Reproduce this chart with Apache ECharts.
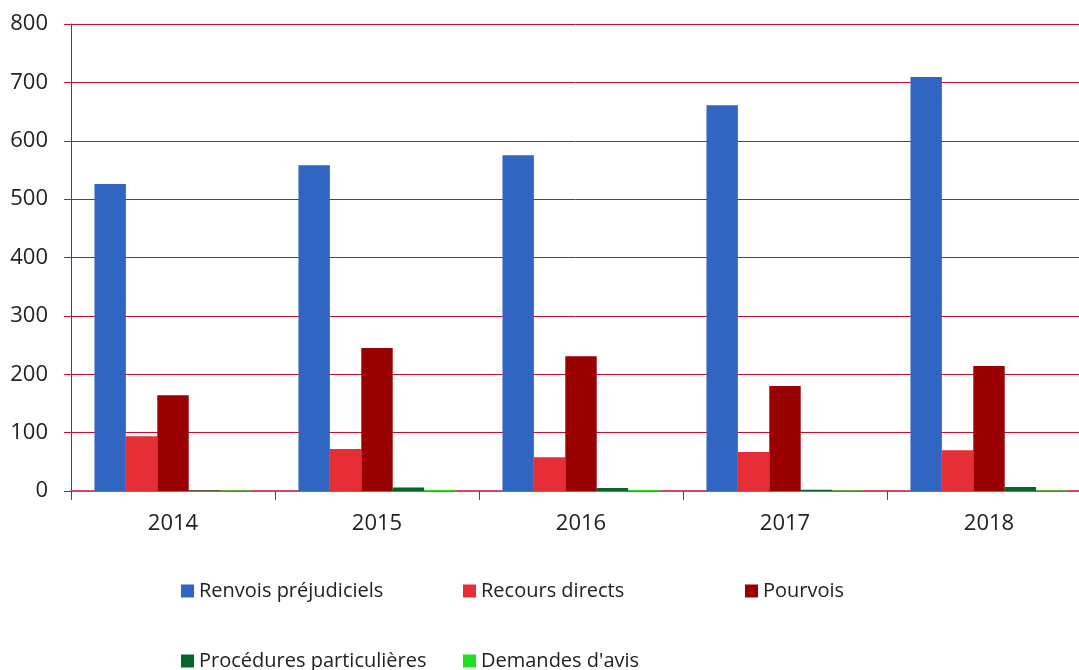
<!DOCTYPE html>
<html>
<head>
<meta charset="utf-8">
<script src="https://cdn.jsdelivr.net/npm/echarts@6/dist/echarts.min.js"></script>
<style>
  html, body { margin: 0; padding: 0; background: #fff; }
  #chart { width: 1079px; height: 670px; }
</style>
</head>
<body>
<div id="chart"></div>
<script>
  // years and series
  var years = ['2014', '2015', '2016', '2017', '2018'];
  var renvois = [526, 558, 575, 661, 709];
  var recours = [94, 72, 58, 67, 70];
  var pourvois = [164, 245, 231, 180, 214];
  var procedures = [1, 6, 5, 2, 7];
  var avis = [1, 2, 2, 1, 1];
  var names = ['Renvois préjudiciels', 'Recours directs', 'Pourvois', 'Procédures particulières', "Demandes d'avis"];
  var colors = ['#3066C2', '#E62E36', '#990000', '#05652A', '#22DD22'];
  var yTicks = [0, 100, 200, 300, 400, 500, 600, 700, 800];

  var lineRed = '#C8102E';
  var myChart = echarts.init(document.getElementById('chart'));

  // one legend per item so the columns line up as in the picture
  var legendPos = [[181, 581], [463, 581], [745, 581], [181, 651], [463, 651]];
  var legends = names.map(function (n, i) {
    return {
      data: [n],
      left: legendPos[i][0],
      top: legendPos[i][1],
      padding: 0,
      itemWidth: 13,
      itemHeight: 13,
      itemGap: 4,
      icon: 'rect',
      selectedMode: false,
      textStyle: { fontFamily: 'Open Sans', fontSize: 20, color: '#222' }
    };
  });

  var allData = [renvois, recours, pourvois, procedures, avis];
  var series = names.map(function (n, i) {
    return {
      name: n,
      type: 'bar',
      data: allData[i],
      barGap: '0%',
      barCategoryGap: '23%',
      itemStyle: { color: colors[i] },
      emphasis: { disabled: true }
    };
  });

  var option = {
    animation: false,
    legend: legends,
    // the plot runs a little past the right edge of the picture, as in the original
    grid: { left: 71, right: -12, top: 24, bottom: 179, containLabel: false, outerBoundsMode: 'none' },
    xAxis: {
      type: 'category',
      data: years,
      axisLine: { lineStyle: { color: '#CF4A66', width: 2 } },
      axisTick: { show: true, length: 9, lineStyle: { color: lineRed } },
      axisLabel: { fontFamily: 'Open Sans', fontSize: 22, color: '#222', margin: 22 }
    },
    yAxis: {
      type: 'value',
      min: yTicks[0],
      max: yTicks[yTicks.length - 1],
      interval: 100,
      axisLine: { show: true, lineStyle: { color: lineRed, width: 1 } },
      axisTick: { show: true, length: 7, lineStyle: { color: lineRed } },
      axisLabel: { fontFamily: 'Open Sans', fontSize: 22, color: '#222', margin: 23 },
      splitLine: { lineStyle: { color: lineRed, width: 1 } }
    },
    series: series
  };
  myChart.setOption(option);
</script>
</body>
</html>
